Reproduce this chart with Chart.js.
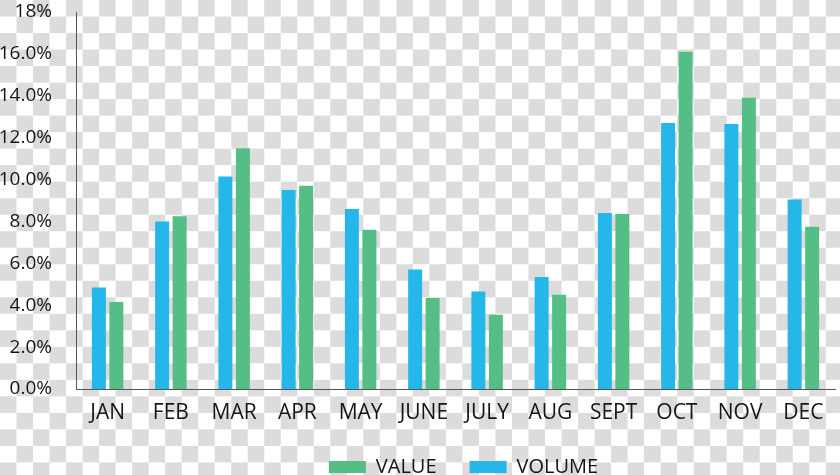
<!DOCTYPE html>
<html>
<head>
<meta charset="utf-8">
<script src="https://cdn.jsdelivr.net/npm/chart.js@4"></script>
<style>
  html, body { margin: 0; padding: 0; overflow: hidden; }
  body {
    width: 840px; height: 475px;
    background-color: #fff;
    /* transparency checkerboard like the source image */
    background-image: conic-gradient(#fff 25%, #dcdcdc 0 50%, #fff 0 75%, #dcdcdc 0);
    background-size: 33.04px 33.04px;
  }
  #wrap { position: relative; width: 840px; height: 487px; }
</style>
</head>
<body>
<div id="wrap"><canvas id="myChart"></canvas></div>
<script>
// months on the x axis
const months = ['JAN', 'FEB', 'MAR', 'APR', 'MAY', 'JUNE', 'JULY', 'AUG', 'SEPT', 'OCT', 'NOV', 'DEC'];
// percentages
const volume = [4.85, 8.0, 10.15, 9.5, 8.6, 5.7, 4.65, 5.35, 8.4, 12.7, 12.65, 9.05];
const value = [4.15, 8.25, 11.5, 9.7, 7.6, 4.35, 3.55, 4.5, 8.35, 16.1, 13.9, 7.75];
const seriesNames = ['VOLUME', 'VALUE'];

const blue = '#25b6ea';
const green = '#55be87';
const textColor = '#151515';

Chart.defaults.font.family = "'Open Sans', sans-serif";
Chart.defaults.color = textColor;

// nudge the legend to the right like in the original
const legendShift = {
    id: 'legendShift',
    afterLayout(chart) {
        if (chart.legend) {
            chart.legend.left += 46;
            chart.legend.right += 46;
        }
    }
};

const ctx = document.getElementById('myChart').getContext('2d');
window.myChart = new Chart(ctx, {
    type: 'bar',
    data: {
        labels: months,
        datasets: [
            {
                label: seriesNames[0],
                data: volume,
                backgroundColor: blue,
                borderWidth: 0
            },
            {
                label: seriesNames[1],
                data: value,
                backgroundColor: green,
                borderWidth: 0
            }
        ]
    },
    options: {
        responsive: true,
        maintainAspectRatio: false,
        animation: false,
        categoryPercentage: 0.553,
        barPercentage: 0.8,
        layout: {
            padding: { top: 12, right: 5, bottom: 0, left: 0 }
        },
        plugins: {
            tooltip: { enabled: false },
            legend: {
                position: 'bottom',
                reverse: true,
                labels: {
                    boxWidth: 37,
                    boxHeight: 12,
                    padding: 33,
                    color: textColor,
                    font: { size: 20 }
                }
            }
        },
        scales: {
            x: {
                grid: { display: false, drawTicks: false },
                border: { display: true, color: '#555', width: 1 },
                ticks: {
                    padding: 11,
                    maxRotation: 0,
                    autoSkip: false,
                    font: { size: 21 }
                },
                afterFit(scale) { scale.height = 35; }
            },
            y: {
                min: 0,
                max: 18,
                grid: { display: false, drawTicks: false },
                border: { display: true, color: '#555', width: 1 },
                ticks: {
                    stepSize: 2,
                    padding: 24,
                    font: { size: 19 },
                    callback: function (v) {
                        return v === 18 ? '18%' : v.toFixed(1) + '%';
                    }
                },
                afterFit(scale) {
                    scale.width = 76;
                    // tick padding would otherwise push the plot down
                    scale.paddingTop = 12;
                }
            }
        }
    },
    plugins: [legendShift]
});
</script>
</body>
</html>
